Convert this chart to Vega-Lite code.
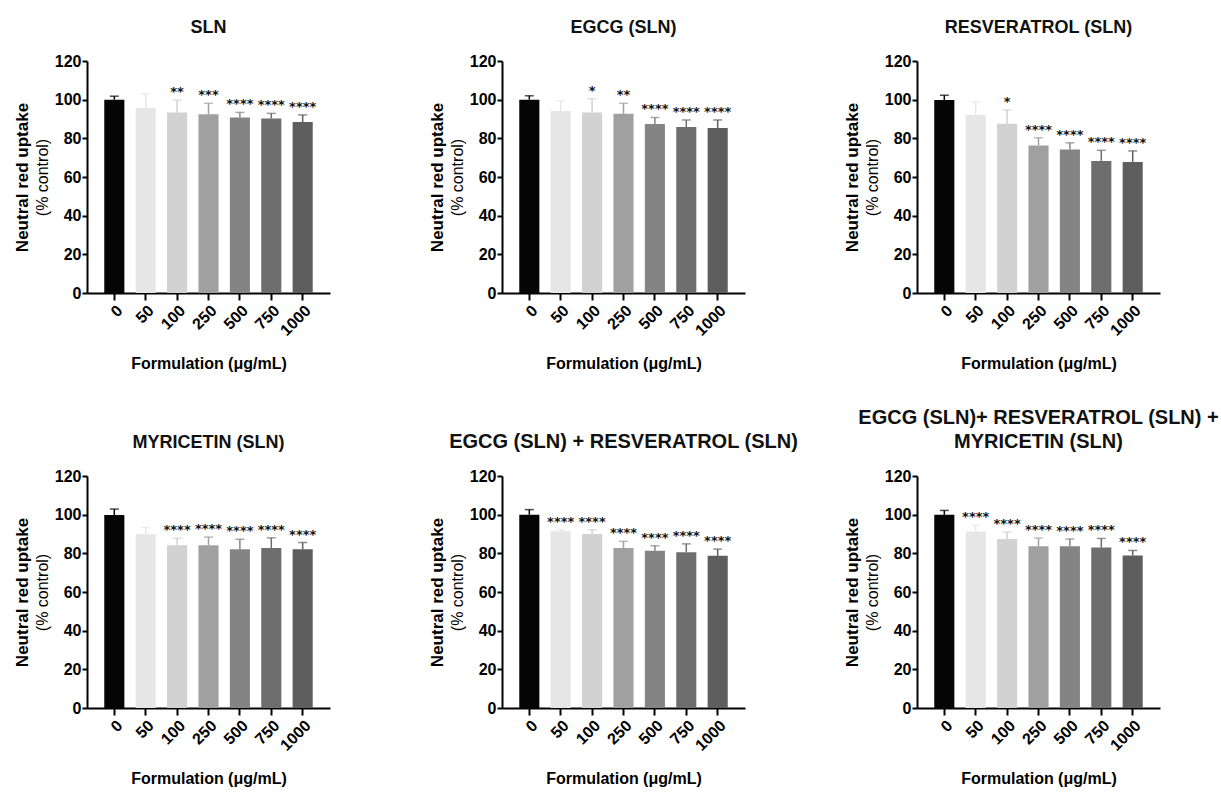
{
  "$schema": "https://vega.github.io/schema/vega-lite/v6.json",
  "background": "white",
  "padding": {"left": 13, "top": 19, "right": 2, "bottom": 5},
  "config": {
    "font": "Liberation Sans",
    "view": {"stroke": null},
    "title": {"font": "Liberation Sans", "fontSize": 18, "fontWeight": "bold", "color": "#111111", "offset": 16, "anchor": "middle", "lineHeight": 24},
    "axis": {"domainColor": "#000000", "domainWidth": 2, "tickColor": "#000000", "tickWidth": 2, "tickSize": 6, "labelFont": "Liberation Sans", "labelFontWeight": "bold", "labelFontSize": 16, "labelColor": "#000000", "titleFont": "Liberation Sans", "titleFontWeight": "bold", "titleFontSize": 17, "titleColor": "#000000", "grid": false},
    "axisX": {"labelAngle": -45, "labelAlign": "right", "labelBaseline": "top", "labelPadding": 2, "tickSize": 7, "titlePadding": 17, "titleFontSize": 16},
    "axisY": {"labelPadding": 1, "tickSize": 5},
    "text": {"font": "DejaVu Sans", "fontWeight": "bold", "fontSize": 13, "color": "#111111"}
  },
  "datasets": {
    "nru": [
      {"panel": "SLN", "dose": "0", "mean": 100, "upper": 101.8, "stars": ""},
      {"panel": "SLN", "dose": "50", "mean": 95.7, "upper": 103, "stars": ""},
      {"panel": "SLN", "dose": "100", "mean": 93.4, "upper": 99.7, "stars": "**"},
      {"panel": "SLN", "dose": "250", "mean": 92.4, "upper": 98.1, "stars": "***"},
      {"panel": "SLN", "dose": "500", "mean": 90.8, "upper": 93.4, "stars": "****"},
      {"panel": "SLN", "dose": "750", "mean": 90.2, "upper": 92.9, "stars": "****"},
      {"panel": "SLN", "dose": "1000", "mean": 88.4, "upper": 92.1, "stars": "****"},
      {"panel": "EGCG", "dose": "0", "mean": 100, "upper": 102, "stars": ""},
      {"panel": "EGCG", "dose": "50", "mean": 94.1, "upper": 99.3, "stars": ""},
      {"panel": "EGCG", "dose": "100", "mean": 93.4, "upper": 100.5, "stars": "*"},
      {"panel": "EGCG", "dose": "250", "mean": 92.7, "upper": 98.1, "stars": "**"},
      {"panel": "EGCG", "dose": "500", "mean": 87.4, "upper": 90.8, "stars": "****"},
      {"panel": "EGCG", "dose": "750", "mean": 85.8, "upper": 89.5, "stars": "****"},
      {"panel": "EGCG", "dose": "1000", "mean": 85.3, "upper": 89.5, "stars": "****"},
      {"panel": "RES", "dose": "0", "mean": 99.8, "upper": 102.3, "stars": ""},
      {"panel": "RES", "dose": "50", "mean": 92.1, "upper": 98.8, "stars": ""},
      {"panel": "RES", "dose": "100", "mean": 87.5, "upper": 94.7, "stars": "*"},
      {"panel": "RES", "dose": "250", "mean": 76.3, "upper": 80.3, "stars": "****"},
      {"panel": "RES", "dose": "500", "mean": 74.2, "upper": 77.7, "stars": "****"},
      {"panel": "RES", "dose": "750", "mean": 68.3, "upper": 73.8, "stars": "****"},
      {"panel": "RES", "dose": "1000", "mean": 67.8, "upper": 73.5, "stars": "****"},
      {"panel": "MYR", "dose": "0", "mean": 99.8, "upper": 102.9, "stars": ""},
      {"panel": "MYR", "dose": "50", "mean": 89.9, "upper": 93.4, "stars": ""},
      {"panel": "MYR", "dose": "100", "mean": 84.2, "upper": 87.8, "stars": "****"},
      {"panel": "MYR", "dose": "250", "mean": 84.2, "upper": 88.4, "stars": "****"},
      {"panel": "MYR", "dose": "500", "mean": 82.1, "upper": 87.3, "stars": "****"},
      {"panel": "MYR", "dose": "750", "mean": 82.7, "upper": 88.0, "stars": "****"},
      {"panel": "MYR", "dose": "1000", "mean": 82.1, "upper": 85.6, "stars": "****"},
      {"panel": "ER", "dose": "0", "mean": 100, "upper": 102.6, "stars": ""},
      {"panel": "ER", "dose": "50", "mean": 91.4, "upper": 92.3, "stars": "****"},
      {"panel": "ER", "dose": "100", "mean": 90.0, "upper": 92.2, "stars": "****"},
      {"panel": "ER", "dose": "250", "mean": 82.8, "upper": 86.2, "stars": "****"},
      {"panel": "ER", "dose": "500", "mean": 81.3, "upper": 83.9, "stars": "****"},
      {"panel": "ER", "dose": "750", "mean": 80.6, "upper": 84.9, "stars": "****"},
      {"panel": "ER", "dose": "1000", "mean": 78.7, "upper": 82.2, "stars": "****"},
      {"panel": "ERM", "dose": "0", "mean": 99.9, "upper": 102.2, "stars": ""},
      {"panel": "ERM", "dose": "50", "mean": 91.3, "upper": 94.5, "stars": "****"},
      {"panel": "ERM", "dose": "100", "mean": 87.4, "upper": 90.9, "stars": "****"},
      {"panel": "ERM", "dose": "250", "mean": 83.7, "upper": 87.9, "stars": "****"},
      {"panel": "ERM", "dose": "500", "mean": 83.7, "upper": 87.4, "stars": "****"},
      {"panel": "ERM", "dose": "750", "mean": 83.0, "upper": 87.7, "stars": "****"},
      {"panel": "ERM", "dose": "1000", "mean": 78.9, "upper": 81.5, "stars": "****"}
    ]
  },
  "columns": 3,
  "bounds": "flush",
  "spacing": {"row": 183, "column": 172},
  "concat": [
    {
      "title": {"text": "SLN"},
      "width": 243, "height": 232,
      "data": {"name": "nru"},
      "transform": [{"filter": {"field": "panel", "equal": "SLN"}}],
      "encoding": {"x": {"field": "dose", "type": "nominal", "sort": ["0", "50", "100", "250", "500", "750", "1000"], "scale": {"paddingInner": 0.36, "paddingOuter": 0.55}, "axis": {"title": "Formulation (μg/mL)"}}},
      "layer": [
        {"mark": {"type": "bar"}, "encoding": {"y": {"field": "mean", "type": "quantitative", "scale": {"domain": [0, 120]}, "axis": {"title": "(% control)", "values": [0, 20, 40, 60, 80, 100, 120], "titleFontWeight": "normal", "titleFontSize": 16, "titlePadding": 4}}, "color": {"field": "dose", "type": "nominal", "scale": {"domain": ["0", "50", "100", "250", "500", "750", "1000"], "range": ["#050505", "#e6e6e6", "#d2d2d2", "#a0a0a3", "#848484", "#6e6e6e", "#5e5e5e"]}, "legend": null}}},
        {"mark": {"type": "rule", "strokeWidth": 1.5}, "encoding": {"y": {"field": "mean", "type": "quantitative", "scale": {"domain": [0, 120]}, "axis": null}, "y2": {"field": "upper"}, "color": {"field": "dose", "type": "nominal", "legend": null}}},
        {"mark": {"type": "tick", "orient": "horizontal", "size": 9, "thickness": 1.5}, "encoding": {"y": {"field": "upper", "type": "quantitative", "scale": {"domain": [0, 120]}, "axis": null}, "color": {"field": "dose", "type": "nominal", "legend": null}}},
        {"mark": {"type": "text", "baseline": "alphabetic", "dy": -4}, "encoding": {"y": {"field": "upper", "type": "quantitative", "scale": {"domain": [0, 120]}, "axis": {"orient": "left", "title": "Neutral red uptake", "labels": false, "ticks": false, "domain": false, "offset": 54, "titlePadding": 2}}, "text": {"field": "stars"}}}
      ],
      "resolve": {"scale": {"y": "independent"}}
    },
    {
      "title": {"text": "EGCG (SLN)"},
      "width": 243, "height": 232,
      "data": {"name": "nru"},
      "transform": [{"filter": {"field": "panel", "equal": "EGCG"}}],
      "encoding": {"x": {"field": "dose", "type": "nominal", "sort": ["0", "50", "100", "250", "500", "750", "1000"], "scale": {"paddingInner": 0.36, "paddingOuter": 0.55}, "axis": {"title": "Formulation (μg/mL)"}}},
      "layer": [
        {"mark": {"type": "bar"}, "encoding": {"y": {"field": "mean", "type": "quantitative", "scale": {"domain": [0, 120]}, "axis": {"title": "(% control)", "values": [0, 20, 40, 60, 80, 100, 120], "titleFontWeight": "normal", "titleFontSize": 16, "titlePadding": 4}}, "color": {"field": "dose", "type": "nominal", "scale": {"domain": ["0", "50", "100", "250", "500", "750", "1000"], "range": ["#050505", "#e6e6e6", "#d2d2d2", "#a0a0a3", "#848484", "#6e6e6e", "#5e5e5e"]}, "legend": null}}},
        {"mark": {"type": "rule", "strokeWidth": 1.5}, "encoding": {"y": {"field": "mean", "type": "quantitative", "scale": {"domain": [0, 120]}, "axis": null}, "y2": {"field": "upper"}, "color": {"field": "dose", "type": "nominal", "legend": null}}},
        {"mark": {"type": "tick", "orient": "horizontal", "size": 9, "thickness": 1.5}, "encoding": {"y": {"field": "upper", "type": "quantitative", "scale": {"domain": [0, 120]}, "axis": null}, "color": {"field": "dose", "type": "nominal", "legend": null}}},
        {"mark": {"type": "text", "baseline": "alphabetic", "dy": -4}, "encoding": {"y": {"field": "upper", "type": "quantitative", "scale": {"domain": [0, 120]}, "axis": {"orient": "left", "title": "Neutral red uptake", "labels": false, "ticks": false, "domain": false, "offset": 54, "titlePadding": 2}}, "text": {"field": "stars"}}}
      ],
      "resolve": {"scale": {"y": "independent"}}
    },
    {
      "title": {"text": "RESVERATROL (SLN)"},
      "width": 243, "height": 232,
      "data": {"name": "nru"},
      "transform": [{"filter": {"field": "panel", "equal": "RES"}}],
      "encoding": {"x": {"field": "dose", "type": "nominal", "sort": ["0", "50", "100", "250", "500", "750", "1000"], "scale": {"paddingInner": 0.36, "paddingOuter": 0.55}, "axis": {"title": "Formulation (μg/mL)"}}},
      "layer": [
        {"mark": {"type": "bar"}, "encoding": {"y": {"field": "mean", "type": "quantitative", "scale": {"domain": [0, 120]}, "axis": {"title": "(% control)", "values": [0, 20, 40, 60, 80, 100, 120], "titleFontWeight": "normal", "titleFontSize": 16, "titlePadding": 4}}, "color": {"field": "dose", "type": "nominal", "scale": {"domain": ["0", "50", "100", "250", "500", "750", "1000"], "range": ["#050505", "#e6e6e6", "#d2d2d2", "#a0a0a3", "#848484", "#6e6e6e", "#5e5e5e"]}, "legend": null}}},
        {"mark": {"type": "rule", "strokeWidth": 1.5}, "encoding": {"y": {"field": "mean", "type": "quantitative", "scale": {"domain": [0, 120]}, "axis": null}, "y2": {"field": "upper"}, "color": {"field": "dose", "type": "nominal", "legend": null}}},
        {"mark": {"type": "tick", "orient": "horizontal", "size": 9, "thickness": 1.5}, "encoding": {"y": {"field": "upper", "type": "quantitative", "scale": {"domain": [0, 120]}, "axis": null}, "color": {"field": "dose", "type": "nominal", "legend": null}}},
        {"mark": {"type": "text", "baseline": "alphabetic", "dy": -4}, "encoding": {"y": {"field": "upper", "type": "quantitative", "scale": {"domain": [0, 120]}, "axis": {"orient": "left", "title": "Neutral red uptake", "labels": false, "ticks": false, "domain": false, "offset": 54, "titlePadding": 2}}, "text": {"field": "stars"}}}
      ],
      "resolve": {"scale": {"y": "independent"}}
    },
    {
      "title": {"text": "MYRICETIN (SLN)"},
      "width": 243, "height": 232,
      "data": {"name": "nru"},
      "transform": [{"filter": {"field": "panel", "equal": "MYR"}}],
      "encoding": {"x": {"field": "dose", "type": "nominal", "sort": ["0", "50", "100", "250", "500", "750", "1000"], "scale": {"paddingInner": 0.36, "paddingOuter": 0.55}, "axis": {"title": "Formulation (μg/mL)"}}},
      "layer": [
        {"mark": {"type": "bar"}, "encoding": {"y": {"field": "mean", "type": "quantitative", "scale": {"domain": [0, 120]}, "axis": {"title": "(% control)", "values": [0, 20, 40, 60, 80, 100, 120], "titleFontWeight": "normal", "titleFontSize": 16, "titlePadding": 4}}, "color": {"field": "dose", "type": "nominal", "scale": {"domain": ["0", "50", "100", "250", "500", "750", "1000"], "range": ["#050505", "#e6e6e6", "#d2d2d2", "#a0a0a3", "#848484", "#6e6e6e", "#5e5e5e"]}, "legend": null}}},
        {"mark": {"type": "rule", "strokeWidth": 1.5}, "encoding": {"y": {"field": "mean", "type": "quantitative", "scale": {"domain": [0, 120]}, "axis": null}, "y2": {"field": "upper"}, "color": {"field": "dose", "type": "nominal", "legend": null}}},
        {"mark": {"type": "tick", "orient": "horizontal", "size": 9, "thickness": 1.5}, "encoding": {"y": {"field": "upper", "type": "quantitative", "scale": {"domain": [0, 120]}, "axis": null}, "color": {"field": "dose", "type": "nominal", "legend": null}}},
        {"mark": {"type": "text", "baseline": "alphabetic", "dy": -4}, "encoding": {"y": {"field": "upper", "type": "quantitative", "scale": {"domain": [0, 120]}, "axis": {"orient": "left", "title": "Neutral red uptake", "labels": false, "ticks": false, "domain": false, "offset": 54, "titlePadding": 2}}, "text": {"field": "stars"}}}
      ],
      "resolve": {"scale": {"y": "independent"}}
    },
    {
      "title": {"text": "EGCG (SLN) + RESVERATROL (SLN)", "fontSize": 20},
      "width": 243, "height": 232,
      "data": {"name": "nru"},
      "transform": [{"filter": {"field": "panel", "equal": "ER"}}],
      "encoding": {"x": {"field": "dose", "type": "nominal", "sort": ["0", "50", "100", "250", "500", "750", "1000"], "scale": {"paddingInner": 0.36, "paddingOuter": 0.55}, "axis": {"title": "Formulation (μg/mL)"}}},
      "layer": [
        {"mark": {"type": "bar"}, "encoding": {"y": {"field": "mean", "type": "quantitative", "scale": {"domain": [0, 120]}, "axis": {"title": "(% control)", "values": [0, 20, 40, 60, 80, 100, 120], "titleFontWeight": "normal", "titleFontSize": 16, "titlePadding": 4}}, "color": {"field": "dose", "type": "nominal", "scale": {"domain": ["0", "50", "100", "250", "500", "750", "1000"], "range": ["#050505", "#e6e6e6", "#d2d2d2", "#a0a0a3", "#848484", "#6e6e6e", "#5e5e5e"]}, "legend": null}}},
        {"mark": {"type": "rule", "strokeWidth": 1.5}, "encoding": {"y": {"field": "mean", "type": "quantitative", "scale": {"domain": [0, 120]}, "axis": null}, "y2": {"field": "upper"}, "color": {"field": "dose", "type": "nominal", "legend": null}}},
        {"mark": {"type": "tick", "orient": "horizontal", "size": 9, "thickness": 1.5}, "encoding": {"y": {"field": "upper", "type": "quantitative", "scale": {"domain": [0, 120]}, "axis": null}, "color": {"field": "dose", "type": "nominal", "legend": null}}},
        {"mark": {"type": "text", "baseline": "alphabetic", "dy": -4}, "encoding": {"y": {"field": "upper", "type": "quantitative", "scale": {"domain": [0, 120]}, "axis": {"orient": "left", "title": "Neutral red uptake", "labels": false, "ticks": false, "domain": false, "offset": 54, "titlePadding": 2}}, "text": {"field": "stars"}}}
      ],
      "resolve": {"scale": {"y": "independent"}}
    },
    {
      "title": {"text": ["EGCG (SLN)+ RESVERATROL (SLN) +", "MYRICETIN (SLN)"], "fontSize": 20},
      "width": 243, "height": 232,
      "data": {"name": "nru"},
      "transform": [{"filter": {"field": "panel", "equal": "ERM"}}],
      "encoding": {"x": {"field": "dose", "type": "nominal", "sort": ["0", "50", "100", "250", "500", "750", "1000"], "scale": {"paddingInner": 0.36, "paddingOuter": 0.55}, "axis": {"title": "Formulation (μg/mL)"}}},
      "layer": [
        {"mark": {"type": "bar"}, "encoding": {"y": {"field": "mean", "type": "quantitative", "scale": {"domain": [0, 120]}, "axis": {"title": "(% control)", "values": [0, 20, 40, 60, 80, 100, 120], "titleFontWeight": "normal", "titleFontSize": 16, "titlePadding": 4}}, "color": {"field": "dose", "type": "nominal", "scale": {"domain": ["0", "50", "100", "250", "500", "750", "1000"], "range": ["#050505", "#e6e6e6", "#d2d2d2", "#a0a0a3", "#848484", "#6e6e6e", "#5e5e5e"]}, "legend": null}}},
        {"mark": {"type": "rule", "strokeWidth": 1.5}, "encoding": {"y": {"field": "mean", "type": "quantitative", "scale": {"domain": [0, 120]}, "axis": null}, "y2": {"field": "upper"}, "color": {"field": "dose", "type": "nominal", "legend": null}}},
        {"mark": {"type": "tick", "orient": "horizontal", "size": 9, "thickness": 1.5}, "encoding": {"y": {"field": "upper", "type": "quantitative", "scale": {"domain": [0, 120]}, "axis": null}, "color": {"field": "dose", "type": "nominal", "legend": null}}},
        {"mark": {"type": "text", "baseline": "alphabetic", "dy": -4}, "encoding": {"y": {"field": "upper", "type": "quantitative", "scale": {"domain": [0, 120]}, "axis": {"orient": "left", "title": "Neutral red uptake", "labels": false, "ticks": false, "domain": false, "offset": 54, "titlePadding": 2}}, "text": {"field": "stars"}}}
      ],
      "resolve": {"scale": {"y": "independent"}}
    }
  ]
}
